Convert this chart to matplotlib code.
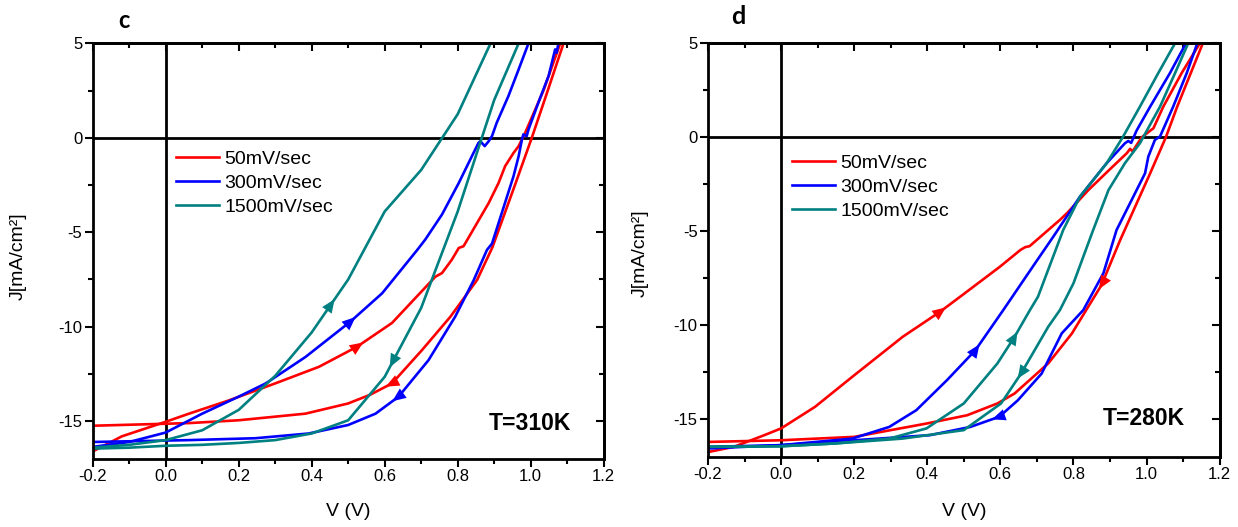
import numpy as np
import matplotlib
matplotlib.use("Agg")
import matplotlib.pyplot as plt
from matplotlib.ticker import MultipleLocator, FormatStrFormatter

plt.rcParams['font.family'] = ['Liberation Sans', 'DejaVu Sans']
plt.rcParams['axes.unicode_minus'] = False

# ---------------- data : panel c (T = 310 K) ----------------
c_red_fwd_V = [-0.2, -0.12, 0.0, 0.064, 0.173, 0.30, 0.42, 0.524, 0.62, 0.739, 0.757, 0.784, 0.803, 0.816,
               0.848, 0.885, 0.912, 0.930, 0.953, 0.967, 0.985, 1.035, 1.081]
c_red_fwd_J = [-16.6, -15.8, -15.03, -14.6, -13.9, -13.0, -12.12, -11.06, -9.8, -7.35, -7.16, -6.45, -5.83, -5.74,
               -4.68, -3.45, -2.39, -1.50, -0.80, -0.44, 0.27, 2.5, 5.0]
c_red_rev_V = [-0.2, 0.064, 0.20, 0.383, 0.50, 0.56, 0.62, 0.702, 0.78, 0.853, 0.895, 0.955, 1.003, 1.045, 1.09]
c_red_rev_J = [-15.24, -15.1, -14.95, -14.6, -14.06, -13.6, -13.0, -11.24, -9.47, -7.53, -5.8, -2.6, 0.0, 2.4, 5.0]

c_blue_fwd_V = [-0.2, -0.1, 0.0, 0.10, 0.20, 0.274, 0.383, 0.506, 0.593, 0.689, 0.711, 0.757, 0.803, 0.839,
                0.857, 0.862, 0.874, 0.885, 0.894, 0.907, 0.939, 0.967, 0.994]
c_blue_fwd_J = [-16.36, -16.1, -15.6, -14.6, -13.7, -13.0, -11.6, -9.73, -8.23, -5.94, -5.39, -4.06, -2.39, -0.97,
                -0.27, -0.18, -0.44, -0.18, 0.09, 0.80, 2.21, 3.62, 5.0]
c_blue_rev_V = [-0.2, 0.064, 0.246, 0.392, 0.50, 0.575, 0.638, 0.72, 0.793, 0.844, 0.88, 0.894, 0.953, 0.967,
                0.976, 0.980, 0.989, 0.994, 1.021, 1.049, 1.067, 1.071, 1.076]
c_blue_rev_J = [-16.1, -16.0, -15.9, -15.65, -15.2, -14.6, -13.7, -11.77, -9.47, -7.53, -5.94, -5.6, -2.03, -0.97,
                -0.09, 0.18, 0.09, 0.44, 1.86, 3.27, 4.68, 4.5, 5.0]

c_teal_fwd_V = [-0.2, -0.1, 0.0, 0.1, 0.2, 0.3, 0.4, 0.5, 0.6, 0.7, 0.8, 0.89]
c_teal_fwd_J = [-16.4, -16.25, -16.0, -15.48, -14.4, -12.6, -10.3, -7.5, -3.9, -1.7, 1.25, 5.0]
c_teal_rev_V = [-0.2, -0.1, 0.0, 0.1, 0.2, 0.3, 0.4, 0.5, 0.6, 0.7, 0.8, 0.9, 0.967]
c_teal_rev_J = [-16.45, -16.4, -16.3, -16.25, -16.15, -16.0, -15.65, -14.95, -12.65, -9.0, -3.9, 2.0, 5.0]

# ---------------- data : panel d (T = 280 K) ----------------
d_red_fwd_V = [-0.198, -0.129, -0.046, 0.0, 0.093, 0.195, 0.333, 0.435, 0.49, 0.599, 0.655, 0.668, 0.68, 0.763,
               0.782, 0.841, 0.898, 0.946, 0.955, 0.962, 0.987, 1.019, 1.046, 1.096, 1.146]
d_red_fwd_J = [-16.75, -16.48, -15.86, -15.5, -14.35, -12.75, -10.62, -9.29, -8.49, -6.89, -6.0, -5.85, -5.8, -4.40,
               -4.05, -2.81, -1.74, -0.85, -0.62, -0.75, 0.0, 0.48, 1.63, 3.41, 5.0]
d_red_rev_V = [-0.2, 0.0, 0.2, 0.398, 0.509, 0.592, 0.639, 0.731, 0.796, 0.877, 0.928, 1.01, 1.053, 1.084, 1.121, 1.154]
d_red_rev_J = [-16.22, -16.13, -15.95, -15.24, -14.80, -14.17, -13.64, -12.04, -10.44, -7.86, -5.47, -1.92, 0.0,
               1.63, 3.41, 5.0]

d_blue_fwd_V = [-0.2, 0.0, 0.195, 0.296, 0.37, 0.454, 0.532, 0.608, 0.695, 0.745, 0.818, 0.891, 0.941, 0.95,
                0.958, 0.973, 1.01, 1.064, 1.108]
d_blue_fwd_J = [-16.57, -16.39, -16.04, -15.42, -14.53, -12.93, -11.33, -9.20, -6.71, -5.29, -3.16, -1.38, -0.32,
                -0.2, -0.3, 0.36, 1.63, 3.41, 5.0]
d_blue_rev_V = [-0.2, 0.0, 0.2, 0.407, 0.518, 0.597, 0.648, 0.713, 0.768, 0.827, 0.882, 0.918, 0.996, 1.005,
                1.023, 1.037, 1.073, 1.11, 1.139]
d_blue_rev_J = [-16.48, -16.39, -16.13, -15.86, -15.42, -14.88, -14.0, -12.58, -10.44, -9.20, -7.24, -4.94, -1.92,
                -1.03, -0.14, 0.04, 1.63, 3.41, 5.0]

d_teal_fwd_V = [-0.2, 0.0, 0.148, 0.296, 0.398, 0.50, 0.592, 0.639, 0.681, 0.703, 0.772, 0.818, 0.891, 0.935,
                0.982, 1.032, 1.078]
d_teal_fwd_J = [-16.48, -16.45, -16.3, -16.04, -15.5, -14.17, -12.04, -10.62, -9.2, -8.49, -4.94, -3.16, -1.38, 0.0,
                1.63, 3.41, 5.0]
d_teal_rev_V = [-0.2, 0.0, 0.148, 0.333, 0.50, 0.602, 0.657, 0.694, 0.731, 0.763, 0.80, 0.854, 0.896, 0.941,
                0.982, 0.991, 1.037, 1.078, 1.114]
d_teal_rev_J = [-16.48, -16.45, -16.3, -16.04, -15.59, -14.17, -12.57, -11.33, -10.09, -9.2, -7.78, -4.94, -2.81,
                -1.38, -0.32, 0.0, 1.63, 3.41, 5.0]

labels = ['50mV/sec', '300mV/sec', '1500mV/sec']
colors = ['#FF0000', '#0000FF', '#008080']
temps = ['T=310K', 'T=280K']
panel_letters = ['c', 'd']

# arrow positions (V of the arrow head) : forward (increasing V) and reverse (decreasing V)
c_arrow_fwd = [0.53, 0.51, 0.455]
c_arrow_rev = [0.615, 0.632, 0.62]
d_arrow_fwd = [0.44, 0.535, 0.64]
d_arrow_rev = [0.877, 0.59, 0.655]

panels = [
    dict(fwd=[(c_red_fwd_V, c_red_fwd_J), (c_blue_fwd_V, c_blue_fwd_J), (c_teal_fwd_V, c_teal_fwd_J)],
         rev=[(c_red_rev_V, c_red_rev_J), (c_blue_rev_V, c_blue_rev_J), (c_teal_rev_V, c_teal_rev_J)],
         afwd=c_arrow_fwd, arev=c_arrow_rev),
    dict(fwd=[(d_red_fwd_V, d_red_fwd_J), (d_blue_fwd_V, d_blue_fwd_J), (d_teal_fwd_V, d_teal_fwd_J)],
         rev=[(d_red_rev_V, d_red_rev_J), (d_blue_rev_V, d_blue_rev_J), (d_teal_rev_V, d_teal_rev_J)],
         afwd=d_arrow_fwd, arev=d_arrow_rev),
]

W, H = 1238, 527
fig = plt.figure(figsize=(W / 100, H / 100), dpi=100)
axes = [fig.add_axes([92.7 / W, 1 - 459.0 / H, 511.0 / W, 415.7 / H]),
        fig.add_axes([708.0 / W, 1 - 456.6 / H, 511.6 / W, 413.3 / H])]


def point_on_curve(V, J, v):
    V = np.asarray(V, float)
    J = np.asarray(J, float)
    for i in range(len(V) - 1):
        a, b = V[i], V[i + 1]
        if min(a, b) <= v <= max(a, b) and a != b:
            t = (v - a) / (b - a)
            return i, J[i] + t * (J[i + 1] - J[i])
    return len(V) - 2, J[-1]


def add_arrow(ax, V, J, v, reverse, color):
    i, j = point_on_curve(V, J, v)
    p0 = ax.transData.transform((V[i], J[i]))
    p1 = ax.transData.transform((V[i + 1], J[i + 1]))
    d = p1 - p0
    if reverse:
        d = -d
    d = d / np.hypot(*d)
    tip = ax.transData.transform((v, j)) + d * 5
    tail = tip - d * 12
    tip_d = ax.transData.inverted().transform(tip)
    tail_d = ax.transData.inverted().transform(tail)
    ax.annotate('', xy=tip_d, xytext=tail_d, xycoords='data', textcoords='data',
                arrowprops=dict(arrowstyle='-|>,head_length=0.75,head_width=0.32', color=color,
                                lw=0, shrinkA=0, shrinkB=0, mutation_scale=13), zorder=5)


for k, (ax, p) in enumerate(zip(axes, panels)):
    ax.set_xlim(-0.2, 1.2)
    ax.set_ylim(-17, 5)
    ax.axhline(0, color='black', lw=2, zorder=1)
    ax.axvline(0, color='black', lw=2, zorder=1)
    handles = []
    for (fv, fj), (rv, rj), col, lab in zip(p['fwd'], p['rev'], colors, labels):
        h, = ax.plot(fv, fj, color=col, lw=1.9, label=lab, zorder=2, solid_joinstyle='round')
        ax.plot(rv, rj, color=col, lw=1.9, zorder=2, solid_joinstyle='round')
        handles.append(h)
    for (fv, fj), v, col in zip(p['fwd'], p['afwd'], colors):
        add_arrow(ax, fv, fj, v, False, col)
    for (rv, rj), v, col in zip(p['rev'], p['arev'], colors):
        add_arrow(ax, rv, rj, v, True, col)

    ax.xaxis.set_major_locator(MultipleLocator(0.2))
    ax.xaxis.set_minor_locator(MultipleLocator(0.1))
    ax.yaxis.set_major_locator(MultipleLocator(5))
    ax.yaxis.set_minor_locator(MultipleLocator(2.5))
    ax.xaxis.set_major_formatter(FormatStrFormatter('%.1f'))
    ax.yaxis.set_major_formatter(FormatStrFormatter('%d'))
    ax.tick_params(which='both', direction='out', width=1.5, labelsize=12, top=False, right=False)
    ax.tick_params(which='major', length=5.5, pad=2)
    ax.tick_params(which='minor', length=3.5)
    for s in ax.spines.values():
        s.set_linewidth(2)

    sx = ax.secondary_xaxis('top')
    sx.xaxis.set_major_locator(MultipleLocator(0.2))
    sx.xaxis.set_minor_locator(MultipleLocator(0.1))
    sx.tick_params(which='both', direction='in', width=1.5, labeltop=False, labelbottom=False)
    sx.tick_params(which='major', length=5.5)
    sx.tick_params(which='minor', length=3.5)
    sx.spines['top'].set_linewidth(2)
    sy = ax.secondary_yaxis('right')
    sy.yaxis.set_major_locator(MultipleLocator(5))
    sy.yaxis.set_minor_locator(MultipleLocator(2.5))
    sy.tick_params(which='both', direction='in', width=1.5, labelright=False, labelleft=False)
    sy.tick_params(which='major', length=5.5)
    sy.tick_params(which='minor', length=3.5)
    sy.spines['right'].set_linewidth(2)

    leg_anchor = [(0.163, 0.743), (0.164, 0.731)][k]
    ax.legend(handles=handles, loc='upper left', bbox_to_anchor=leg_anchor, frameon=False, fontsize=14,
              handlelength=2.2, handletextpad=0.3, labelspacing=0.33, borderpad=0, borderaxespad=0)

    tpos = [(0.886, -15.1), (0.879, -14.95)][k]
    ax.text(tpos[0], tpos[1], temps[k], fontsize=16.5, fontweight='bold', ha='left', va='center', zorder=6)

# panel letters and axis titles
fig.text(124 / W, 1 - 20 / H, panel_letters[0], fontsize=17, fontweight='bold', family=['Lato', 'DejaVu Sans'],
         ha='center', va='center')
fig.text(738 / W, 1 - 16 / H, panel_letters[1], fontsize=18, fontweight='bold', family=['Lato', 'DejaVu Sans'],
         ha='center', va='center')
for xc, yc in [(18.5, 256), (640, 253)]:
    fig.text(xc / W, 1 - yc / H, 'J[mA/cm²]', rotation=90, fontsize=14, ha='center', va='center')
for xc in [348, 964]:
    fig.text(xc / W, 1 - 511 / H, 'V (V)', fontsize=14, ha='center', va='center')

fig.savefig('out.png', dpi=100)
